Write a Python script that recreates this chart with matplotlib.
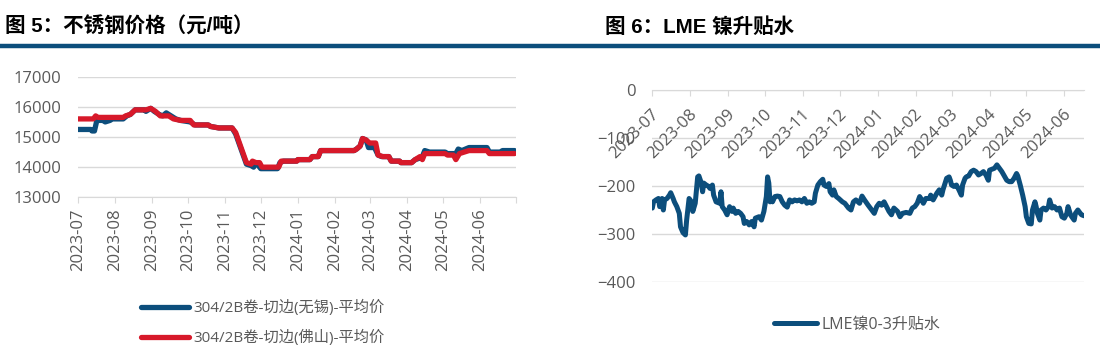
import matplotlib
matplotlib.use('Agg')
import matplotlib.pyplot as plt
import matplotlib.transforms as mtransforms
from matplotlib.lines import Line2D
import pandas as pd

plt.rcParams['font.family'] = ['Open Sans', 'Noto Sans CJK SC']

BLUE = '#0c4e7c'
RED = '#d7192a'
GRAY = '#595959'
GRID = '#d9d9d9'

# 不锈钢价格 304/2B卷-切边 (元/吨)
wuxi_dates = ['2023-07-01', '2023-07-12', '2023-07-13', '2023-07-15', '2023-07-17', '2023-07-22',
              '2023-07-24', '2023-07-28', '2023-07-30', '2023-08-08', '2023-08-11', '2023-08-14',
              '2023-08-18', '2023-08-26', '2023-08-27', '2023-08-31', '2023-09-03', '2023-09-07',
              '2023-09-10', '2023-09-13', '2023-09-17', '2023-09-21', '2023-09-25', '2023-10-03',
              '2023-10-07', '2023-10-18', '2023-10-20', '2023-10-27', '2023-11-07', '2023-11-10',
              '2023-11-19', '2023-11-23', '2023-11-25', '2023-11-26', '2023-11-28', '2023-12-01',
              '2023-12-15', '2023-12-17', '2023-12-20', '2023-12-31', '2024-01-01', '2024-01-11',
              '2024-01-13', '2024-01-18', '2024-01-20', '2024-02-17', '2024-02-19', '2024-02-22',
              '2024-02-24', '2024-02-27', '2024-02-29', '2024-03-05', '2024-03-08', '2024-03-11',
              '2024-03-17', '2024-03-19', '2024-03-26', '2024-03-27', '2024-04-05', '2024-04-08',
              '2024-04-12', '2024-04-14', '2024-04-16', '2024-04-20', '2024-05-03', '2024-05-05',
              '2024-05-12', '2024-05-14', '2024-05-17', '2024-05-23', '2024-06-07', '2024-06-09',
              '2024-06-18', '2024-06-20', '2024-06-30']
wuxi_vals = [15250, 15250, 15200, 15200, 15550, 15550,
             15500, 15550, 15600, 15600, 15700, 15750,
             15900, 15900, 15850, 15950, 15850, 15750,
             15700, 15800, 15700, 15600, 15550, 15500,
             15400, 15400, 15350, 15300, 15300, 15100,
             14100, 14050, 14000, 14150, 14100, 13950,
             13950, 14150, 14200, 14200, 14250, 14250,
             14350, 14350, 14550, 14550, 14600, 14700,
             14950, 14900, 14650, 14650, 14400, 14350,
             14350, 14200, 14200, 14150, 14150, 14250,
             14300, 14350, 14550, 14500, 14500, 14450,
             14450, 14600, 14550, 14650, 14650, 14500,
             14500, 14550, 14550]

foshan_dates = ['2023-07-01', '2023-07-14', '2023-07-16', '2023-07-18', '2023-08-08', '2023-08-10',
                '2023-08-14', '2023-08-18', '2023-08-27', '2023-08-31', '2023-09-04', '2023-09-08',
                '2023-09-15', '2023-09-19', '2023-09-25', '2023-10-03', '2023-10-06', '2023-10-18',
                '2023-10-20', '2023-10-27', '2023-11-07', '2023-11-10', '2023-11-19', '2023-11-23',
                '2023-11-24', '2023-11-27', '2023-11-30', '2023-12-02', '2023-12-16', '2023-12-18',
                '2023-12-31', '2024-01-01', '2024-01-11', '2024-01-13', '2024-01-18', '2024-01-20',
                '2024-02-17', '2024-02-19', '2024-02-22', '2024-02-24', '2024-02-27', '2024-03-01',
                '2024-03-06', '2024-03-08', '2024-03-12', '2024-03-17', '2024-03-19', '2024-03-26',
                '2024-03-27', '2024-04-05', '2024-04-08', '2024-04-12', '2024-04-14', '2024-04-16',
                '2024-04-20', '2024-05-03', '2024-05-05', '2024-05-10', '2024-05-12', '2024-05-15',
                '2024-05-23', '2024-06-07', '2024-06-09', '2024-06-30']
foshan_vals = [15600, 15600, 15700, 15650, 15650, 15700,
               15750, 15900, 15900, 15950, 15850, 15700,
               15700, 15600, 15550, 15550, 15400, 15400,
               15350, 15300, 15300, 15150, 14150, 14100,
               14200, 14150, 14150, 14000, 14000, 14200,
               14200, 14250, 14250, 14350, 14350, 14550,
               14550, 14600, 14700, 14950, 14900, 14800,
               14800, 14400, 14350, 14350, 14200, 14200,
               14150, 14150, 14250, 14350, 14250, 14450,
               14450, 14450, 14400, 14400, 14250, 14450,
               14550, 14550, 14450, 14450]

# LME镍0-3升贴水
lme_dates = ['2023-07-01', '2023-07-02', '2023-07-04', '2023-07-06', '2023-07-07', '2023-07-09',
             '2023-07-10', '2023-07-11', '2023-07-13', '2023-07-15', '2023-07-16', '2023-07-18',
             '2023-07-19', '2023-07-21', '2023-07-23', '2023-07-24', '2023-07-26', '2023-07-28',
             '2023-07-29', '2023-07-31', '2023-08-02', '2023-08-03', '2023-08-05', '2023-08-06',
             '2023-08-07', '2023-08-08', '2023-08-10', '2023-08-11', '2023-08-12', '2023-08-14',
             '2023-08-16', '2023-08-17', '2023-08-19', '2023-08-20', '2023-08-22', '2023-08-25',
             '2023-08-26', '2023-08-27', '2023-08-29', '2023-08-31', '2023-09-02', '2023-09-04',
             '2023-09-05', '2023-09-07', '2023-09-09', '2023-09-11', '2023-09-13', '2023-09-14',
             '2023-09-16', '2023-09-18', '2023-09-20', '2023-09-22', '2023-09-23', '2023-09-26',
             '2023-09-28', '2023-09-30', '2023-10-02', '2023-10-03', '2023-10-04', '2023-10-05',
             '2023-10-06', '2023-10-07', '2023-10-09', '2023-10-11', '2023-10-13', '2023-10-15',
             '2023-10-17', '2023-10-19', '2023-10-21', '2023-10-23', '2023-10-25', '2023-10-27',
             '2023-10-29', '2023-10-31', '2023-11-02', '2023-11-04', '2023-11-06', '2023-11-08',
             '2023-11-10', '2023-11-11', '2023-11-13', '2023-11-15', '2023-11-17', '2023-11-18',
             '2023-11-20', '2023-11-22', '2023-11-23', '2023-11-25', '2023-11-26', '2023-11-28',
             '2023-11-30', '2023-12-03', '2023-12-05', '2023-12-08', '2023-12-10', '2023-12-12',
             '2023-12-14', '2023-12-17', '2023-12-19', '2023-12-21', '2023-12-24', '2023-12-27',
             '2023-12-29', '2023-12-31', '2024-01-02', '2024-01-04', '2024-01-06', '2024-01-08',
             '2024-01-10', '2024-01-12', '2024-01-14', '2024-01-17', '2024-01-19', '2024-01-21',
             '2024-01-24', '2024-01-27', '2024-01-29', '2024-01-31', '2024-02-02', '2024-02-04',
             '2024-02-05', '2024-02-07', '2024-02-09', '2024-02-12', '2024-02-13', '2024-02-15',
             '2024-02-18', '2024-02-20', '2024-02-22', '2024-02-23', '2024-02-26', '2024-02-28',
             '2024-02-29', '2024-03-01', '2024-03-03', '2024-03-05', '2024-03-07', '2024-03-09',
             '2024-03-10', '2024-03-12', '2024-03-13', '2024-03-15', '2024-03-17', '2024-03-19',
             '2024-03-21', '2024-03-23', '2024-03-25', '2024-03-27', '2024-03-29', '2024-03-31',
             '2024-04-01', '2024-04-03', '2024-04-05', '2024-04-07', '2024-04-09', '2024-04-11',
             '2024-04-13', '2024-04-15', '2024-04-17', '2024-04-19', '2024-04-21', '2024-04-23',
             '2024-04-24', '2024-04-26', '2024-04-28', '2024-04-30', '2024-05-01', '2024-05-03',
             '2024-05-05', '2024-05-06', '2024-05-08', '2024-05-09', '2024-05-10', '2024-05-12',
             '2024-05-13', '2024-05-15', '2024-05-17', '2024-05-19', '2024-05-20', '2024-05-22',
             '2024-05-24', '2024-05-26', '2024-05-28', '2024-05-30', '2024-06-01', '2024-06-03',
             '2024-06-04', '2024-06-06', '2024-06-07', '2024-06-09', '2024-06-10', '2024-06-12',
             '2024-06-14', '2024-06-15', '2024-06-17']
lme_vals = [-246, -233, -229, -226, -243, -226,
            -250, -229, -226, -219, -214, -226,
            -233, -243, -257, -285, -297, -302,
            -271, -226, -233, -253, -236, -208,
            -181, -179, -194, -212, -194, -198,
            -201, -205, -198, -219, -233, -236,
            -212, -243, -250, -260, -243, -253,
            -246, -257, -253, -257, -264, -278,
            -274, -281, -274, -285, -267, -264,
            -271, -253, -222, -181, -194, -233,
            -226, -233, -222, -221, -222, -233,
            -240, -244, -229, -233, -229, -231,
            -229, -233, -226, -236, -233, -236,
            -233, -215, -198, -191, -186, -198,
            -201, -195, -212, -219, -208, -222,
            -226, -233, -236, -246, -250, -233,
            -229, -236, -221, -229, -240, -250,
            -257, -243, -236, -240, -233, -243,
            -253, -260, -246, -253, -264, -257,
            -255, -257, -246, -243, -236, -222,
            -226, -236, -226, -226, -219, -229,
            -215, -208, -219, -208, -184, -181,
            -188, -198, -201, -198, -208, -219,
            -198, -184, -181, -179, -170, -167,
            -170, -177, -174, -170, -177, -188,
            -167, -165, -163, -156, -163, -170,
            -179, -188, -191, -191, -184, -174,
            -179, -198, -219, -243, -264, -278,
            -279, -250, -233, -243, -257, -271,
            -250, -246, -250, -243, -229, -246,
            -243, -250, -246, -264, -267, -257,
            -243, -260, -264, -271, -257, -250,
            -257, -260, -262]

W, H = 1100, 363
fig = plt.figure(figsize=(W / 100, H / 100), dpi=100)

# titles and rule
title_font = ['Liberation Sans', 'Noto Sans CJK SC']
fig.text(5 / W, 1 - 27 / H, '图 5：不锈钢价格（元/吨）', family=title_font,
         weight='bold', fontsize=14.8, ha='left', va='center', color='black')
fig.text(605 / W, 1 - 27 / H, '图 6：LME 镍升贴水', family=title_font,
         weight='bold', fontsize=14.8, ha='left', va='center', color='black')
fig.add_artist(Line2D([0, 1], [1 - 46 / H, 1 - 46 / H], color=BLUE, lw=3.2,
                      transform=fig.transFigure))

# left chart
ax1 = fig.add_axes([77.7 / W, 1 - 197.3 / H, 438 / W, 120.6 / H])
l1, = ax1.plot(pd.to_datetime(wuxi_dates), wuxi_vals, color=BLUE, lw=3.8,
               solid_capstyle='round', solid_joinstyle='round')
l2, = ax1.plot(pd.to_datetime(foshan_dates), foshan_vals, color=RED, lw=3.8,
               solid_capstyle='round', solid_joinstyle='round')
ax1.set_ylim(13000, 17000)
ax1.set_yticks(range(13000, 17001, 1000))
ax1.set_xlim(pd.Timestamp('2023-07-01'), pd.Timestamp('2024-07-01'))
months1 = pd.date_range('2023-07-01', '2024-07-01', freq='MS')
ax1.set_xticks(months1)
ax1.set_xticklabels([m.strftime('%Y-%m') for m in months1[:-1]] + [''], rotation=90)
ax1.grid(axis='y', color=GRID, lw=1)
ax1.set_axisbelow(True)
for s in ['top', 'right', 'left']:
    ax1.spines[s].set_visible(False)
ax1.spines['bottom'].set_color(GRID)
ax1.tick_params(axis='x', length=4, color=GRID, labelcolor=GRAY, labelsize=12, pad=4)
ax1.tick_params(axis='y', length=0, labelcolor=GRAY, labelsize=12, pad=12)

fig.legend([l1, l2], ['304/2B卷-切边(无锡)-平均价', '304/2B卷-切边(佛山)-平均价'],
           loc='center', bbox_to_anchor=(263 / W, 1 - 323 / H), frameon=False,
           fontsize=11, labelcolor=GRAY, handlelength=3.1, handletextpad=0.3,
           labelspacing=0.9)

# right chart
ax2 = fig.add_axes([652.3 / W, 1 - 282 / H, 431.7 / W, 192 / H])
l3, = ax2.plot(pd.to_datetime(lme_dates), lme_vals, color=BLUE, lw=3.6,
               solid_capstyle='round', solid_joinstyle='round')
ax2.set_ylim(-400, 0)
ax2.set_yticks(range(-400, 1, 100))
ax2.set_xlim(pd.Timestamp('2023-07-01'), pd.Timestamp('2024-06-17'))
months2 = pd.date_range('2023-07-01', '2024-06-01', freq='MS')
ax2.set_xticks(months2)
ax2.xaxis.set_ticks_position('top')
ax2.grid(axis='y', color=GRID, lw=1)
ax2.set_axisbelow(True)
for s in ['bottom', 'right', 'left']:
    ax2.spines[s].set_visible(False)
ax2.spines['top'].set_color(GRID)
ax2.tick_params(axis='x', direction='in', length=4, color=GRID,
                labeltop=False, labelbottom=False)
ax2.tick_params(axis='y', length=0, labelcolor=GRAY, labelsize=12, pad=12)

lab_trans = mtransforms.offset_copy(ax2.get_xaxis_transform(), fig=fig,
                                    x=4, y=-22, units='dots')
for m in months2:
    ax2.text(m, 1, m.strftime('%Y-%m'), transform=lab_trans, rotation=45,
             rotation_mode='anchor', ha='right', va='center', fontsize=12,
             color=GRAY, clip_on=False)

fig.legend([l3], ['LME镍0-3升贴水'], loc='center',
           bbox_to_anchor=(857 / W, 1 - 325 / H), frameon=False, fontsize=11.5,
           labelcolor=GRAY, handlelength=2.7, handletextpad=0.3)

fig.savefig('out.png', dpi=100)
